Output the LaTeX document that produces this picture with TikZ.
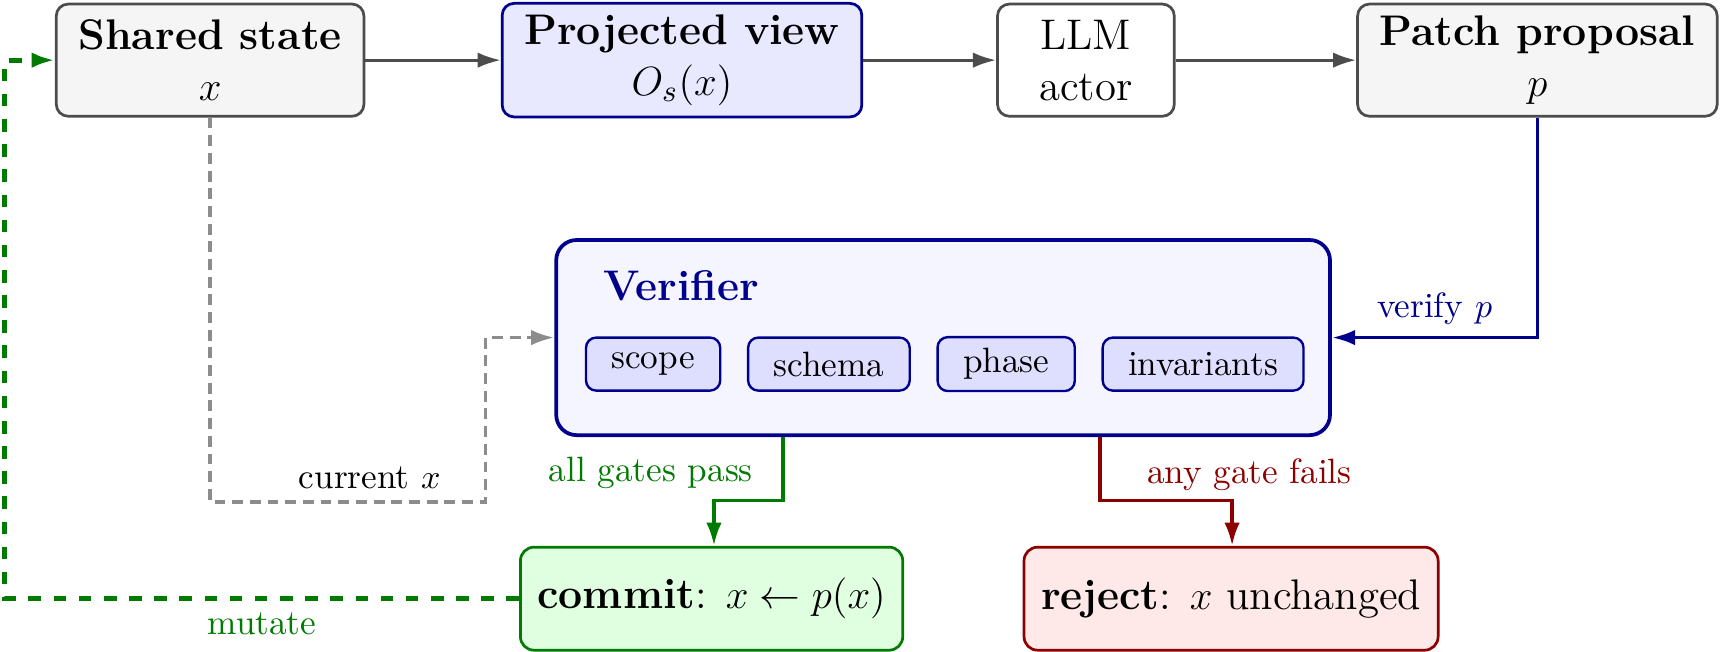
\documentclass[tikz,border=0pt]{standalone}
\usetikzlibrary{positioning,arrows.meta,calc}

\definecolor{navy}{rgb}{0,0,0.55}
\definecolor{okgreen}{rgb}{0,0.48,0}
\definecolor{badred}{rgb}{0.55,0,0}

\begin{document}
\begin{tikzpicture}[
    x=1pt, y=1pt,
    font=\fontsize{10.35}{12.5}\selectfont,
    % ---- styles -------------------------------------------------
    big/.style={font=\fontsize{12.6}{15}\selectfont},
    box/.style={
        big, rounded corners=3.5pt, draw=black!70, line width=0.8pt,
        fill=black!4, align=center, inner xsep=6.5pt,
        minimum width=52pt, minimum height=33pt},
    view/.style={box, fill=blue!9, draw=navy},
    actor/.style={box, fill=white},
    verif/.style={
        rounded corners=6pt, draw=navy, line width=1.1pt, fill=blue!4,
        minimum width=227.6pt, minimum height=57.4pt},
    gate/.style={
        rounded corners=3pt, draw=navy, line width=0.7pt, fill=blue!13,
        inner xsep=7.5pt, minimum height=15.6pt},
    outcome/.style={
        big, rounded corners=4pt, line width=0.8pt, inner xsep=5pt,
        minimum height=30.3pt},
    flow/.style={-{Latex[length=2.4mm,width=1.6mm]}, line width=0.9pt, draw=black!70},
    check/.style={flow, draw=navy, line width=1.1pt},
    pass/.style={flow, draw=okgreen, line width=1.1pt},
    fail/.style={flow, draw=badred, line width=1.1pt},
    cur/.style={flow, draw=black!45, line width=1pt, dash pattern=on 3.2pt off 2pt},
    mutate/.style={flow, draw=okgreen, line width=1.5pt, dash pattern=on 3.7pt off 3.7pt},
]
\useasboundingbox (0,0) rectangle (506.5,191.5);

% =================== top row ==================================
\node[box]   (shared) at (61.8,173.8)  {\textbf{Shared state}\\ $x$};
\node[view]  (proj)   at (200.6,173.8) {\textbf{Projected view}\\ $O_s(x)$};
\node[actor] (llm)    at (319.4,173.8) {LLM\\ actor};
\node[box]   (patch)  at (452.2,173.8) {\textbf{Patch proposal}\\ $p$};

\draw[flow] (shared) -- (proj);
\draw[flow] (proj)   -- (llm);
\draw[flow] (llm)    -- (patch);

% =================== verifier =================================
\node[verif] (verifier) at (277.4,92.2) {};
\node[anchor=west, font=\fontsize{12.6}{15}\selectfont\bfseries, text=navy]
    (vtitle) at ($(verifier.north west)+(10.8pt,-14.1pt)$) {Verifier};
\node[gate] (scope) at (192.1,84.4) {scope};
\node[gate, right=7.5pt of scope]  (schema) {schema};
\node[gate, right=7.5pt of schema] (phase)  {phase};
\node[gate, right=7.5pt of phase]  (invar)  {invariants};

\draw[check] (patch.south) |- (verifier.east)
    node[pos=0.75, above, text=navy] {verify $p$};
\draw[cur] (shared.south) |- ($(verifier.west)+(-20.3pt,-48.4pt)$)
    node[pos=0.79, above, text=black] {current $x$}
    |- (verifier.west);

% =================== outcomes =================================
\node[outcome, fill=green!12, draw=okgreen] (commit) at (209.3,15.4)
    {\textbf{commit}: $x \leftarrow p(x)$};
\node[outcome, fill=red!9, draw=badred] (reject) at (362.1,15.4)
    {\textbf{reject}: $x$ unchanged};

\draw[pass] ($(verifier.south)+(-47.1pt,0)$) |- ($(commit.north)+(0.7pt,13.3pt)$)
    node[pos=0.28, left=5pt, text=okgreen] {all gates pass}
    -- ($(commit.north)+(0.7pt,0)$);
\draw[fail] ($(verifier.south)+(46.1pt,0)$) |- ($(reject.north)+(0.3pt,13.3pt)$)
    node[pos=0.3, right=10pt, text=badred] {any gate fails}
    -- ($(reject.north)+(0.3pt,0)$);

\draw[mutate] (commit.west) -| ($(shared.west)+(-14.7pt,0)$)
    node[pos=0.25, below, text=okgreen] {mutate}
    -- (shared.west);

\end{tikzpicture}
\end{document}
